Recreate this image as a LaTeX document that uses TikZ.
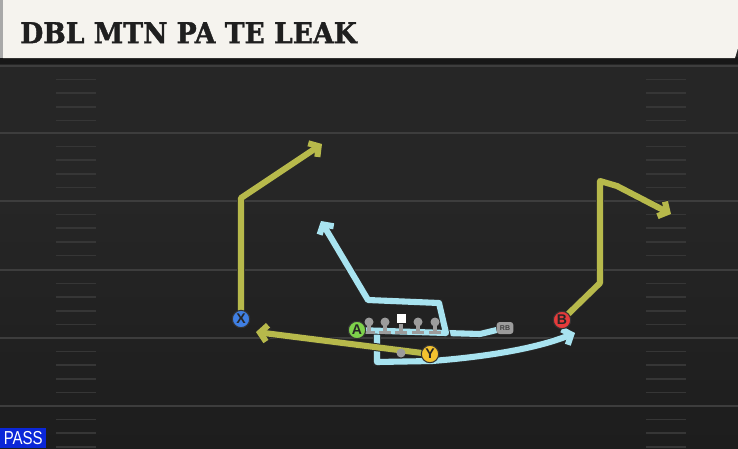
\documentclass[tikz,border=0pt]{standalone}
\usepackage{fontspec}
\setmainfont{Liberation Sans}
\newfontfamily\titlefont{DejaVu Serif}[BoldFeatures={FakeBold=1.5}]
\usetikzlibrary{arrows.meta}

\definecolor{fieldgray}{HTML}{262626}
\definecolor{fielddark}{HTML}{1D1D1D}
\definecolor{bandgray}{HTML}{171717}
\definecolor{linegray}{HTML}{3D3D3D}
\definecolor{hashgray}{HTML}{363636}
\definecolor{titlecream}{HTML}{F5F3EE}
\definecolor{edgegray}{HTML}{A8A8A8}
\definecolor{olive}{HTML}{B7B94B}
\definecolor{skyblue}{HTML}{A8E3F0}
\definecolor{pinggray}{HTML}{9C9C9C}
\definecolor{xblue}{HTML}{3F7FE3}
\definecolor{agreen}{HTML}{7ED24B}
\definecolor{yyellow}{HTML}{F3C22F}
\definecolor{bred}{HTML}{E53B3B}
\definecolor{passblue}{HTML}{0B27D8}

\pgfdeclarelayer{field}
\pgfdeclarelayer{routes}
\pgfsetlayers{field,routes,main}

\tikzset{
  yardline/.style={linegray, line width=1.7pt},
  hashmark/.style={hashgray, line width=1.4pt},
  route/.style={line width=5.2pt, line join=round, line cap=round,
    -{Straight Barb[length=6pt, width=14pt]},
    preaction={draw=black!85, line width=6.8pt, -{Straight Barb[length=6pt, width=14pt]}}},
  routeplain/.style={line width=5.2pt, line join=round,
    preaction={draw=black!85, line width=6.8pt}},
  player/.style={draw=black!80, line width=0.9pt, circle, minimum size=0.52cm, inner sep=0pt,
    font=\fontsize{12}{12}\selectfont\bfseries, text=black!85},
  lineman/.style={circle, fill=pinggray, minimum size=0.27cm, inner sep=0pt},
  blockpin/.style={pinggray, line width=3pt},
}

\begin{document}
\begin{tikzpicture}[x=0.03cm, y=-0.03cm]
\useasboundingbox (0,0) rectangle (738,448);

\begin{pgfonlayer}{field}
% field
\fill[fieldgray] (0,0) rectangle (738,448);
\fill[top color=fieldgray, bottom color=fielddark] (0,200) rectangle (738,448);

% yard lines
\foreach \y in {66,133,201,270,338,406}
  \draw[yardline] (0,\y) -- (738,\y);

% hash marks
\foreach \y in {66,133,201,270,338,406}
  \foreach \k in {1,...,4} {
    \draw[hashmark] (56,\y+\k*13.6) -- (96,\y+\k*13.6);
    \draw[hashmark] (646,\y+\k*13.6) -- (686,\y+\k*13.6);
  }

% band under title
\fill[bandgray] (0,57) rectangle (738,64);

% title bar
\fill[titlecream] (3,0) -- (738,0) -- (738,48) -- (735,58) -- (3,58) -- cycle;
\fill[edgegray] (0,0) rectangle (3,58);
\end{pgfonlayer}

\node[anchor=north west, inner sep=0pt, text=black!88] (title) at (20,22)
  {\resizebox{10.1cm}{0.63cm}{\titlefont\bfseries DBL MTN PA TE LEAK}};

% offensive line
\foreach \x in {369,385,401,418,435} {
  \draw[blockpin] (\x,324) -- (\x,332);
  \draw[blockpin] (\x-6,332.5) -- (\x+6,332.5);
}
\foreach \x in {369,385,418,435}
  \node[lineman] (ol\x) at (\x,322) {};
\node[fill=white, minimum size=0.27cm, inner sep=0pt] (C) at (401,318) {};
\node[lineman] (QB) at (401,353) {};

% players
\node[player, fill=xblue] (X) at (241,319) {X};
\node[player, fill=agreen] (A) at (357,330) {A};
\node[player, fill=yyellow] (Y) at (430,354) {Y};
\node[player, fill=bred] (B) at (562,320) {B};
\node[rounded corners=2.5pt, fill=pinggray, minimum width=0.5cm, minimum height=0.36cm, inner sep=0pt,
  font=\fontsize{6}{6}\selectfont\bfseries, text=black!75] (RB) at (505,328) {RB};

% route corners
\coordinate (xcorner) at (241,198);
\coordinate (xend) at (322,144);
\coordinate (bcorner) at (600,283);
\coordinate (btop) at (600,181);
\coordinate (bbreak) at (617,186);
\coordinate (bend) at (671,214);
\coordinate (yend) at (256,332);
\coordinate (aright) at (446,333);
\coordinate (atop) at (439,303);
\coordinate (aleft) at (368,300);
\coordinate (aend) at (321,221);
\coordinate (rbkink) at (480,334);
\coordinate (qbdrop) at (377,333);
\coordinate (qbdeep) at (377,362);
\coordinate (qbturn) at (432,361);
\coordinate (leakend) at (575,333);

\begin{pgfonlayer}{routes}
% blue routes
\draw[routeplain, skyblue] (RB) -- (rbkink) -- (aright);
\draw[routeplain, skyblue] (qbdrop) -- (qbdeep) -- (qbturn);
\draw[route, skyblue] (qbturn) .. controls (495,356) and (540,347) .. (leakend);
\draw[route, skyblue] (A) -- (aright) -- (atop) -- (aleft) -- (aend);

% olive routes
\draw[route, olive] (X) -- (xcorner) -- (xend);
\draw[route, olive] (B) -- (bcorner) -- (btop) -- (bbreak) -- (bend);
\draw[route, olive] (Y) -- (yend);
\end{pgfonlayer}

% play type
\node[fill=passblue, text=white, anchor=south west, minimum width=1.38cm, minimum height=0.6cm,
  inner sep=0pt, font=\fontsize{16}{16}\selectfont] (pass) at (0,448) {\scalebox{0.8}[1]{PASS}};

\end{tikzpicture}
\end{document}
